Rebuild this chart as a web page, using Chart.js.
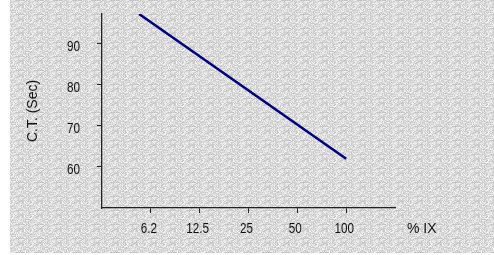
<!DOCTYPE html>
<html>
<head>
<meta charset="utf-8">
<script src="https://cdn.jsdelivr.net/npm/chart.js@4.4.1/dist/chart.umd.min.js"></script>
<style>
  html, body { margin: 0; padding: 0; background: #ffffff; }
  #wrap { width: 494px; height: 255px; position: relative; }
</style>
</head>
<body>
<div id="wrap"><canvas id="c" width="494" height="255"></canvas></div>
<script>
// ---- data ----
const xCategories = ['6.2', '12.5', '25', '50', '100'];
const xCategoryPositions = [1, 2, 3, 4, 5];
const lineX = [0.76, 5];
const lineY = [97.3, 62];
const yTickValues = [60, 70, 80, 90];
const xAxisTitle = '% IX';
const yAxisTitle = 'C.T. (Sec)';

// ---- background texture (style only, deterministic) ----
function hash(x, y) {
  let n = (x * 374761393 + y * 668265263) | 0;
  n = Math.imul(n ^ (n >>> 13), 1274126177);
  n = n ^ (n >>> 16);
  return (n >>> 0) / 4294967296;
}
function makePattern(ctx) {
  const t = document.createElement('canvas');
  t.width = 19; t.height = 14;
  const tc = t.getContext('2d');
  const img = tc.createImageData(19, 14);
  for (let y = 0; y < 14; y++) {
    for (let x = 0; x < 19; x++) {
      const r = hash(x, y);
      let g = 198 + Math.floor(r * 46);
      if (y === 0) g -= 8;
      const i = (y * 19 + x) * 4;
      img.data[i] = g; img.data[i + 1] = g; img.data[i + 2] = g; img.data[i + 3] = 255;
    }
  }
  tc.putImageData(img, 0, 0);
  return ctx.createPattern(t, 'repeat');
}

// condensed numeric labels (the reference uses a narrow face for digits)
const canvas = document.getElementById('c');
const ctx2d = canvas.getContext('2d');
const origFillText = ctx2d.fillText.bind(ctx2d);
ctx2d.fillText = function (text, x, y, maxWidth) {
  if (/^[\d.]+$/.test(String(text))) {
    this.save();
    this.translate(x, y);
    this.scale(0.78, 1);
    origFillText(text, 0, 0);
    this.restore();
  } else {
    origFillText(text, x, y, maxWidth);
  }
};

const bgPlugin = {
  id: 'bg',
  beforeDraw(chart) {
    const ctx = chart.ctx;
    ctx.save();
    ctx.fillStyle = '#ffffff';
    ctx.fillRect(0, 0, chart.width, chart.height);
    ctx.fillStyle = makePattern(ctx);
    ctx.fillRect(10, 0, chart.width - 10, chart.height - 2);
    ctx.restore();
  }
};

const xTitlePlugin = {
  id: 'xTitle',
  afterDraw(chart) {
    const ctx = chart.ctx;
    const a = chart.chartArea;
    ctx.save();
    ctx.font = '14px "Liberation Sans", Arial, sans-serif';
    ctx.fillStyle = '#111111';
    ctx.textAlign = 'left';
    ctx.textBaseline = 'middle';
    ctx.fillText(xAxisTitle, a.right + 12, a.bottom + 21);
    ctx.restore();
  }
};

const tickFont = { family: '"Liberation Sans", Arial, sans-serif', size: 15 };

new Chart(canvas, {
  type: 'scatter',
  data: {
    datasets: [{
      data: lineX.map((x, i) => ({ x: x, y: lineY[i] })),
      showLine: true,
      borderColor: '#000080',
      borderWidth: 2.5,
      pointRadius: 0,
      fill: false
    }]
  },
  options: {
    responsive: false,
    animation: false,
    devicePixelRatio: 1,
    layout: { padding: { left: 0, top: 14, right: 99, bottom: 0 } },
    plugins: { legend: { display: false }, tooltip: { enabled: false } },
    scales: {
      x: {
        type: 'linear',
        min: 0,
        max: 6,
        afterBuildTicks(scale) { scale.ticks = xCategoryPositions.map(v => ({ value: v })); },
        afterFit(scale) { scale.height = 47; scale.paddingLeft = 0; scale.paddingRight = 0; },
        ticks: {
          callback: (v) => xCategories[xCategoryPositions.indexOf(v)] || '',
          font: tickFont,
          color: '#111111',
          padding: 7,
          labelOffset: -2,
          maxRotation: 0,
          autoSkip: false
        },
        grid: { drawOnChartArea: false, drawTicks: true, tickLength: 5, color: '#222', lineWidth: 1 },
        border: { display: true, color: '#222', width: 1.3 }
      },
      y: {
        type: 'linear',
        min: 50,
        max: 97.3,
        afterBuildTicks(scale) { scale.ticks = yTickValues.map(v => ({ value: v })); },
        afterFit(scale) { scale.width = 102; scale.paddingTop = 0; scale.paddingBottom = 0; },
        ticks: {
          font: tickFont,
          color: '#111111',
          padding: 17,
          labelOffset: 3
        },
        title: {
          display: true,
          text: yAxisTitle,
          font: { family: '"Liberation Sans", Arial, sans-serif', size: 14 },
          color: '#111111',
          padding: { top: 25, bottom: 0 }
        },
        grid: { drawOnChartArea: false, drawTicks: true, tickLength: 5, color: '#222', lineWidth: 1 },
        border: { display: true, color: '#222', width: 1.3 }
      }
    }
  },
  plugins: [bgPlugin, xTitlePlugin]
});
</script>
</body>
</html>
